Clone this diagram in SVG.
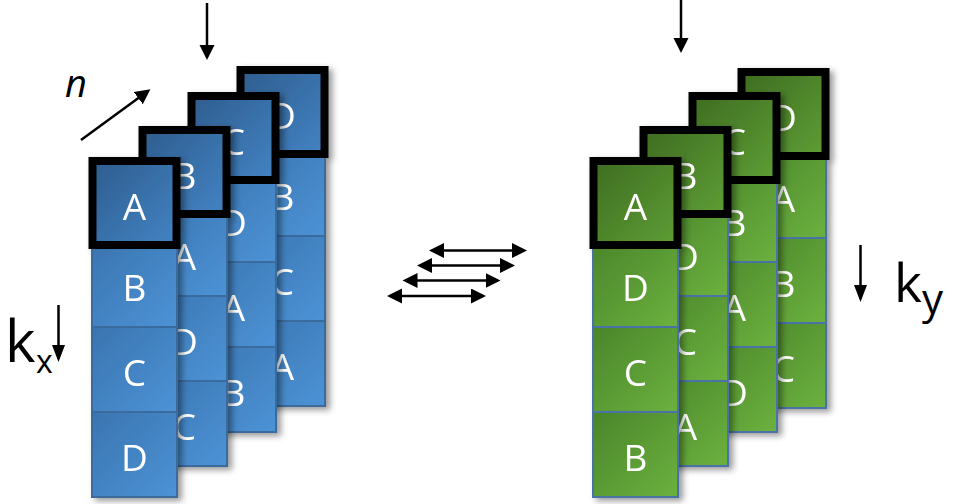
<svg xmlns="http://www.w3.org/2000/svg" width="955" height="504" viewBox="0 0 955 504">
<style>
.t{font-family:"Open Sans","Noto Sans","DejaVu Sans",sans-serif;font-size:37px;fill:#ffffff;text-anchor:middle}
.bc{fill:url(#gb);stroke:#3b6b9c;stroke-width:2}
.bb{fill:url(#gbb);stroke:#000;stroke-width:8}
.gc{fill:url(#gg);stroke:#4a72a6;stroke-width:2}
.gb{fill:url(#ggb);stroke:#000;stroke-width:8}
.ar{stroke:#000;stroke-width:2.5;fill:none}
.lbl{font-family:"Open Sans","Noto Sans","DejaVu Sans",sans-serif;fill:#000}
</style>
<defs>
<linearGradient id="gb" x1="0" y1="0" x2="1" y2="1"><stop offset="0" stop-color="#3a74b0"/><stop offset="1" stop-color="#4c93d6"/></linearGradient>
<linearGradient id="gbb" x1="0" y1="0" x2="1" y2="1"><stop offset="0" stop-color="#2e5d8e"/><stop offset="1" stop-color="#4383c4"/></linearGradient>
<linearGradient id="gg" x1="0" y1="0" x2="1" y2="1"><stop offset="0" stop-color="#4a852a"/><stop offset="1" stop-color="#6cb13f"/></linearGradient>
<linearGradient id="ggb" x1="0" y1="0" x2="1" y2="1"><stop offset="0" stop-color="#3e6c21"/><stop offset="1" stop-color="#5e9e35"/></linearGradient>
<filter id="sh" x="-10%" y="-10%" width="130%" height="130%"><feDropShadow dx="4" dy="3" stdDeviation="3" flood-color="#000" flood-opacity="0.4"/></filter>
<marker id="ah" markerUnits="userSpaceOnUse" markerWidth="16" markerHeight="16" refX="12" refY="7.5" orient="auto-start-reverse"><path d="M0,0 L15,7.5 L0,15 Z" fill="#000"/></marker>
<marker id="ahs" markerUnits="userSpaceOnUse" markerWidth="18" markerHeight="14" refX="14" refY="6.5" orient="auto-start-reverse"><path d="M0,0 L17,6.5 L0,13 Z" fill="#000"/></marker>
</defs>
<rect width="955" height="504" fill="#fff"/>

<!-- LEFT STACK -->
<g id="left-col3" filter="url(#sh)">
<g id="L3-B"><rect class="bc" x="240" y="151" width="85" height="85"/><text class="t" x="282.5" y="210">B</text></g>
<g id="L3-C"><rect class="bc" x="240" y="236" width="85" height="85"/><text class="t" x="282.5" y="295">C</text></g>
<g id="L3-A"><rect class="bc" x="240" y="321" width="85" height="85"/><text class="t" x="282.5" y="380">A</text></g>
<g id="L3-D"><rect class="bb" x="240.5" y="70" width="84" height="84"/><text class="t" x="282.5" y="129">D</text></g>
</g>
<g id="left-col2" filter="url(#sh)">
<g id="L2-D"><rect class="bc" x="191" y="177" width="85" height="85"/><text class="t" x="233.5" y="236">D</text></g>
<g id="L2-A"><rect class="bc" x="191" y="262" width="85" height="85"/><text class="t" x="233.5" y="321">A</text></g>
<g id="L2-B"><rect class="bc" x="191" y="347" width="85" height="85"/><text class="t" x="233.5" y="406">B</text></g>
<g id="L2-C"><rect class="bb" x="191.5" y="96" width="84" height="84"/><text class="t" x="233.5" y="155">C</text></g>
</g>
<g id="left-col1" filter="url(#sh)">
<g id="L1-A"><rect class="bc" x="142" y="211" width="85" height="85"/><text class="t" x="184.5" y="270">A</text></g>
<g id="L1-D"><rect class="bc" x="142" y="296" width="85" height="85"/><text class="t" x="184.5" y="355">D</text></g>
<g id="L1-C"><rect class="bc" x="142" y="381" width="85" height="85"/><text class="t" x="184.5" y="440">C</text></g>
<g id="L1-B"><rect class="bb" x="142.5" y="130" width="84" height="84"/><text class="t" x="184.5" y="189">B</text></g>
</g>
<g id="left-col0" filter="url(#sh)">
<g id="L0-B"><rect class="bc" x="92" y="242" width="85" height="85"/><text class="t" x="134.5" y="301">B</text></g>
<g id="L0-C"><rect class="bc" x="92" y="327" width="85" height="85"/><text class="t" x="134.5" y="386">C</text></g>
<g id="L0-D"><rect class="bc" x="92" y="412" width="85" height="85"/><text class="t" x="134.5" y="471">D</text></g>
<g id="L0-A"><rect class="bb" x="92.5" y="161" width="84" height="84"/><text class="t" x="134.5" y="220">A</text></g>
</g>

<!-- RIGHT STACK -->
<g id="right-col3" filter="url(#sh)">
<g id="R3-A"><rect class="gc" x="741" y="153" width="85" height="85"/><text class="t" x="783.5" y="212">A</text></g>
<g id="R3-B"><rect class="gc" x="741" y="238" width="85" height="85"/><text class="t" x="783.5" y="297">B</text></g>
<g id="R3-C"><rect class="gc" x="741" y="323" width="85" height="85"/><text class="t" x="783.5" y="382">C</text></g>
<g id="R3-D"><rect class="gb" x="741.5" y="72" width="84" height="84"/><text class="t" x="783.5" y="131">D</text></g>
</g>
<g id="right-col2" filter="url(#sh)">
<g id="R2-B"><rect class="gc" x="692" y="177" width="85" height="85"/><text class="t" x="734.5" y="236">B</text></g>
<g id="R2-A"><rect class="gc" x="692" y="262" width="85" height="85"/><text class="t" x="734.5" y="321">A</text></g>
<g id="R2-D"><rect class="gc" x="692" y="347" width="85" height="85"/><text class="t" x="734.5" y="406">D</text></g>
<g id="R2-C"><rect class="gb" x="692.5" y="96" width="84" height="84"/><text class="t" x="734.5" y="155">C</text></g>
</g>
<g id="right-col1" filter="url(#sh)">
<g id="R1-D"><rect class="gc" x="643" y="211" width="85" height="85"/><text class="t" x="685.5" y="270">D</text></g>
<g id="R1-C"><rect class="gc" x="643" y="296" width="85" height="85"/><text class="t" x="685.5" y="355">C</text></g>
<g id="R1-A"><rect class="gc" x="643" y="381" width="85" height="85"/><text class="t" x="685.5" y="440">A</text></g>
<g id="R1-B"><rect class="gb" x="643.5" y="130" width="84" height="84"/><text class="t" x="685.5" y="189">B</text></g>
</g>
<g id="right-col0" filter="url(#sh)">
<g id="R0-D"><rect class="gc" x="593" y="242" width="85" height="85"/><text class="t" x="635.5" y="301">D</text></g>
<g id="R0-C"><rect class="gc" x="593" y="327" width="85" height="85"/><text class="t" x="635.5" y="386">C</text></g>
<g id="R0-B"><rect class="gc" x="593" y="412" width="85" height="85"/><text class="t" x="635.5" y="471">B</text></g>
<g id="R0-A"><rect class="gb" x="593.5" y="161" width="84" height="84"/><text class="t" x="635.5" y="220">A</text></g>
</g>

<!-- LABELS -->
<g id="label-n"><text class="lbl" x="65" y="97" font-size="38" font-style="italic">n</text></g>
<g id="label-kx"><text class="lbl" x="5" y="362" font-size="58">k<tspan x="36" y="373" font-size="32">x</tspan></text></g>
<g id="label-ky"><text class="lbl" x="894" y="302" font-size="53">k<tspan x="922" y="314" font-size="42">y</tspan></text></g>

<!-- CONNECTORS -->
<g id="connectors">
<line class="ar" x1="207" y1="3" x2="207" y2="57" marker-end="url(#ah)"/>
<line class="ar" x1="681" y1="0" x2="681" y2="50" marker-end="url(#ah)"/>
<line class="ar" x1="81" y1="140" x2="148" y2="91" marker-end="url(#ah)"/>
<line class="ar" x1="58.5" y1="305" x2="58.5" y2="359" marker-end="url(#ahs)"/>
<line class="ar" x1="860.5" y1="245" x2="860.5" y2="299" marker-end="url(#ahs)"/>
<line class="ar" x1="432" y1="250.5" x2="524" y2="250.5" marker-start="url(#ah)" marker-end="url(#ah)"/>
<line class="ar" x1="420" y1="265.5" x2="512" y2="265.5" marker-start="url(#ah)" marker-end="url(#ah)"/>
<line class="ar" x1="405.5" y1="280.5" x2="497.5" y2="280.5" marker-start="url(#ah)" marker-end="url(#ah)"/>
<line class="ar" x1="390" y1="296" x2="483" y2="296" marker-start="url(#ah)" marker-end="url(#ah)"/>
</g>
</svg>
